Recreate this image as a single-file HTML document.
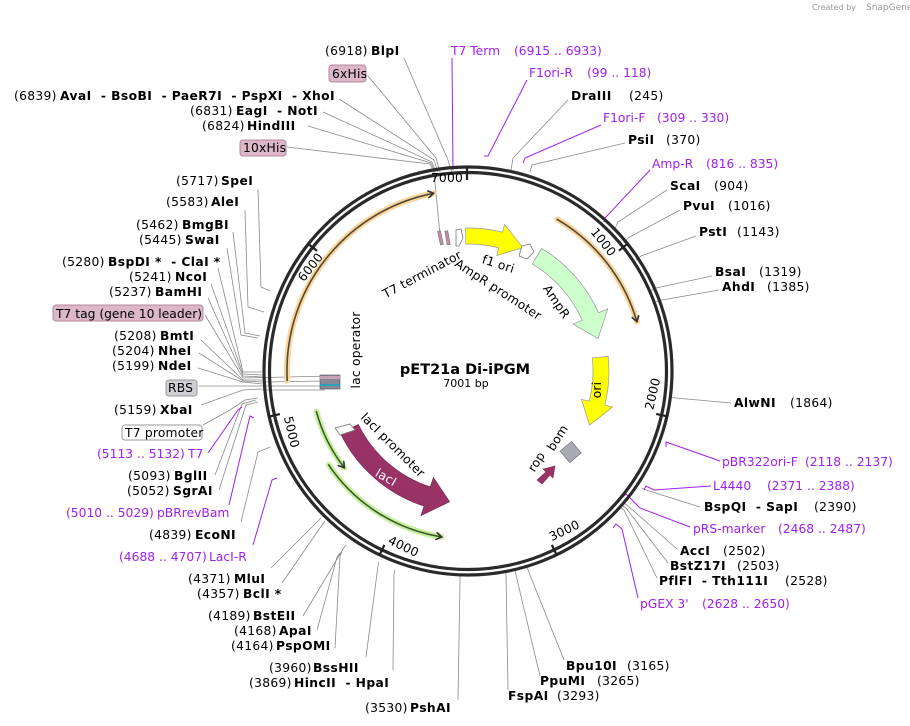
<!DOCTYPE html>
<html><head><meta charset="utf-8"><style>
html,body{margin:0;padding:0;background:#fff;}
svg{display:block;font-family:"DejaVu Sans","Liberation Sans",sans-serif;}
.n{font-size:12.3px;fill:#000;letter-spacing:0.3px;}
.b{font-size:12.3px;font-weight:bold;fill:#000;letter-spacing:0.4px;}
.p{font-size:12.3px;fill:#a020f0;letter-spacing:0px;}
.l{stroke:#8a8a8a;stroke-width:0.8;fill:none;}
.pl{stroke:#a020f0;stroke-width:1;fill:none;}
.f{font-size:12.3px;fill:#000;letter-spacing:0.2px;}
</style></head><body>
<svg width="910" height="726" viewBox="0 0 910 726" xmlns="http://www.w3.org/2000/svg">
<defs>
<marker id="ah" markerWidth="8" markerHeight="8" refX="6" refY="4" orient="auto" markerUnits="userSpaceOnUse">
<path d="M0,0 L6,4 L0,8" fill="none" stroke="#333" stroke-width="1.6"/></marker>
</defs>
<text x="812" y="10" style="font-size:8px;fill:#999">Created by</text>
<text x="866" y="10" style="font-size:9px;fill:#999">SnapGene</text>

<g class="l">
<polyline points="404,58 448,160 452,172"/>
<polyline points="368,76 436,158 440,172"/>
<polyline points="339,99 434,160 438,172"/>
<polyline points="323,112 432,162 436,172"/>
<polyline points="308,126 431,163 435,172"/>
<polyline points="287,147 430,164 434,172 440,235"/>
<polyline points="568,100 513,158 511,170"/>
<polyline points="625,143 532,165 530,172"/>
<polyline points="667,190 618,222 614,230"/>
<polyline points="680,210 628,238 624,243"/>
<polyline points="696,236 641,256 636,260"/>
<polyline points="712,276 656,288 650,291"/>
<polyline points="719,290 662,300 656,302"/>
<polyline points="731,403 676,398 670,397"/>
<polyline points="700,507 646,490 642,488"/>
<polyline points="677,549 628,506 624,503"/>
<polyline points="668,563 626,508 622,505"/>
<polyline points="657,578 624,510 620,507"/>
<polyline points="564,660 528,570 526,566"/>
<polyline points="540,676 516,575 515,570"/>
<polyline points="508,690 506,575 506,570"/>
<polyline points="458,700 460,580 460,574"/>
<polyline points="393,670 394,574 395,570"/>
<polyline points="366,657 378,566 379,562"/>
<polyline points="335,648 340,556 342,552"/>
<polyline points="317,630 337,557 340,553"/>
<polyline points="303,616 343,549 346,545"/>
<polyline points="282,583 322,525 325,521"/>
<polyline points="271,568 318,521 321,518"/>
<polyline points="241,522 258,452 270,447"/>
<polyline points="215,475 242,404 256,400"/>
<polyline points="219,490 246,405 258,402"/>
<polyline points="203,425 230,410 245,400 258,398"/>
<polyline points="258,189 261,287 270,291"/>
<polyline points="245,210 248,307 264,312"/>
<polyline points="233,232 245,333 260,336"/>
<polyline points="227,248 241,335 258,338"/>
<polyline points="218,268 243,372 262,372"/>
<polyline points="211,284 243,374 262,375"/>
<polyline points="208,298 243,376 262,377"/>
<polyline points="205,315 243,378 330,376"/>
<polyline points="201,340 243,380 262,380"/>
<polyline points="199,353 243,381 262,382"/>
<polyline points="198,368 243,382 262,384"/>
<polyline points="199,386 243,386 330,386"/>
<polyline points="201,405 243,390 262,389"/>
<line x1="262" y1="382" x2="325" y2="381"/>
<line x1="262" y1="390" x2="325" y2="390"/>
</g>
<g class="pl">
<polyline points="452,58 453,170"/>
<polyline points="527,80 488,156 484,156"/>
<polyline points="601,125 525,158 523,163"/>
<polyline points="650,170 605,218 604,222"/>
<polyline points="720,461 666,442 666,447"/>
<polyline points="711,486 654,490 646,486 644,490"/>
<polyline points="690,527 640,508 626,494 623,497"/>
<polyline points="638,598 622,529 616,524 613,528"/>
<polyline points="208,453 238,410 242,407"/>
<polyline points="229,505 250,416 254,418"/>
<polyline points="253,545 272,480 277,478"/>
</g>

<text class="n" x="325" y="55">(6918)</text><text class="b" x="371" y="55">BlpI</text>
<rect x="329" y="65" width="37" height="17" rx="3" fill="#dbb7c7" stroke="#b48a9c"/>
<text class="f" x="332" y="78">6xHis</text>
<text class="n" x="14" y="100">(6839)</text>
<text class="b" x="60" y="100" xml:space="preserve">AvaI  - BsoBI  - PaeR7I  - PspXI  - XhoI</text>
<text class="n" x="190" y="115">(6831)</text><text class="b" x="236" y="115" xml:space="preserve">EagI  - NotI</text>
<text class="n" x="202" y="130">(6824)</text><text class="b" x="247" y="130">HindIII</text>
<rect x="240" y="140" width="46" height="16" rx="3" fill="#dbb7c7" stroke="#b48a9c"/>
<text class="f" x="243" y="152">10xHis</text>

<text class="p" x="451" y="55">T7 Term</text><text class="p" x="514" y="55">(6915 .. 6933)</text>
<text class="p" x="529" y="77">F1ori-R</text><text class="p" x="587" y="77">(99 .. 118)</text>
<text class="b" x="571" y="100">DraIII</text><text class="n" x="629" y="100">(245)</text>
<text class="p" x="603" y="122">F1ori-F</text><text class="p" x="657" y="122">(309 .. 330)</text>
<text class="b" x="628" y="144">PsiI</text><text class="n" x="666" y="144">(370)</text>
<text class="p" x="652" y="168">Amp-R</text><text class="p" x="706" y="168">(816 .. 835)</text>
<text class="b" x="670" y="190">ScaI</text><text class="n" x="714" y="190">(904)</text>
<text class="b" x="683" y="210">PvuI</text><text class="n" x="728" y="210">(1016)</text>
<text class="b" x="699" y="236">PstI</text><text class="n" x="737" y="236">(1143)</text>
<text class="b" x="715" y="276">BsaI</text><text class="n" x="759" y="276">(1319)</text>
<text class="b" x="722" y="291">AhdI</text><text class="n" x="767" y="291">(1385)</text>
<text class="b" x="734" y="407">AlwNI</text><text class="n" x="790" y="407">(1864)</text>
<text class="p" x="722" y="466">pBR322ori-F</text><text class="p" x="805" y="466">(2118 .. 2137)</text>
<text class="p" x="713" y="490">L4440</text><text class="p" x="767" y="490">(2371 .. 2388)</text>
<text class="b" x="704" y="511" xml:space="preserve">BspQI  - SapI</text><text class="n" x="814" y="511">(2390)</text>
<text class="p" x="693" y="533">pRS-marker</text><text class="p" x="778" y="533">(2468 .. 2487)</text>
<text class="b" x="680" y="555">AccI</text><text class="n" x="723" y="555">(2502)</text>
<text class="b" x="670" y="570">BstZ17I</text><text class="n" x="737" y="570">(2503)</text>
<text class="b" x="659" y="585" xml:space="preserve">PflFI  - Tth111I</text><text class="n" x="785" y="585">(2528)</text>
<text class="p" x="640" y="608">pGEX 3'</text><text class="p" x="702" y="608">(2628 .. 2650)</text>
<text class="b" x="566" y="670">Bpu10I</text><text class="n" x="627" y="670">(3165)</text>
<text class="b" x="540" y="685">PpuMI</text><text class="n" x="597" y="685">(3265)</text>
<text class="b" x="508" y="700">FspAI</text><text class="n" x="557" y="700">(3293)</text>

<text class="n" x="365" y="712">(3530)</text><text class="b" x="410" y="712">PshAI</text>
<text class="n" x="249" y="687">(3869)</text><text class="b" x="294" y="687" xml:space="preserve">HincII  - HpaI</text>
<text class="n" x="269" y="672">(3960)</text><text class="b" x="313" y="672">BssHII</text>
<text class="n" x="231" y="650">(4164)</text><text class="b" x="276" y="650">PspOMI</text>
<text class="n" x="234" y="635">(4168)</text><text class="b" x="279" y="635">ApaI</text>
<text class="n" x="208" y="620">(4189)</text><text class="b" x="253" y="620">BstEII</text>
<text class="n" x="197" y="598">(4357)</text><text class="b" x="243" y="598">BclI *</text>
<text class="n" x="188" y="583">(4371)</text><text class="b" x="234" y="583">MluI</text>
<text class="p" x="119" y="561">(4688 .. 4707)</text><text class="p" x="209" y="561">LacI-R</text>
<text class="n" x="149" y="539">(4839)</text><text class="b" x="195" y="539">EcoNI</text>
<text class="p" x="66" y="517">(5010 .. 5029)</text><text class="p" x="157" y="517">pBRrevBam</text>
<text class="n" x="127" y="495">(5052)</text><text class="b" x="173" y="495">SgrAI</text>
<text class="n" x="128" y="480">(5093)</text><text class="b" x="174" y="480">BglII</text>
<text class="p" x="97" y="458">(5113 .. 5132)</text><text class="p" x="188" y="458">T7</text>
<rect x="122" y="425" width="80" height="15" rx="3" fill="#fff" stroke="#999"/>
<text class="f" x="125" y="437">T7 promoter</text>
<text class="n" x="114" y="414">(5159)</text><text class="b" x="160" y="414">XbaI</text>
<rect x="166" y="380" width="31" height="16" rx="3" fill="#cfd0d4" stroke="#999"/>
<text class="f" x="168" y="392">RBS</text>
<text class="n" x="112" y="370">(5199)</text><text class="b" x="158" y="370">NdeI</text>
<text class="n" x="112" y="355">(5204)</text><text class="b" x="158" y="355">NheI</text>
<text class="n" x="114" y="340">(5208)</text><text class="b" x="160" y="340">BmtI</text>
<rect x="53" y="305" width="150" height="16" rx="3" fill="#dbb7c7" stroke="#b48a9c"/>
<text class="f" x="56" y="318" style="letter-spacing:0">T7 tag (gene 10 leader)</text>
<text class="n" x="109" y="296">(5237)</text><text class="b" x="155" y="296">BamHI</text>
<text class="n" x="129" y="281">(5241)</text><text class="b" x="175" y="281">NcoI</text>
<text class="n" x="62" y="266">(5280)</text><text class="b" x="108" y="266" xml:space="preserve">BspDI *  - ClaI *</text>
<text class="n" x="139" y="244">(5445)</text><text class="b" x="185" y="244">SwaI</text>
<text class="n" x="136" y="229">(5462)</text><text class="b" x="182" y="229">BmgBI</text>
<text class="n" x="166" y="206">(5583)</text><text class="b" x="211" y="206">AleI</text>
<text class="n" x="176" y="185">(5717)</text><text class="b" x="221" y="185">SpeI</text>

<circle cx="468" cy="371" r="204" fill="none" stroke="#2a2a2a" stroke-width="3.2"/>
<circle cx="468" cy="371" r="198.5" fill="none" stroke="#2a2a2a" stroke-width="3.2"/>

<g stroke="#222" stroke-width="2.2">
<line x1="467" y1="166" x2="467" y2="180"/>
<line x1="628.3" y1="243.2" x2="618.9" y2="250.7"/>
<line x1="667.9" y1="416.6" x2="656.2" y2="413.9"/>
<line x1="557" y1="555.7" x2="551.8" y2="544.9"/>
<line x1="379.2" y1="555.7" x2="384.4" y2="544.9"/>
<line x1="268.2" y1="416.8" x2="279.9" y2="414.1"/>
<line x1="307.6" y1="243.4" x2="317" y2="250.9"/>
</g>
<g class="f">
<text x="463" y="182" text-anchor="end">7000</text>
<text transform="translate(618,251) rotate(51.4)" text-anchor="end" dy="10">1000</text>
<text transform="translate(656,411) rotate(-77)" text-anchor="start" dy="-3">2000</text>
<text transform="translate(553,544) rotate(-25.7)" text-anchor="start" dy="-3">3000</text>
<text transform="translate(386,546) rotate(25.7)" text-anchor="start" dy="-3">4000</text>
<text transform="translate(281,418) rotate(77)" text-anchor="start" dy="-3">5000</text>
<text transform="translate(316,251) rotate(-51.4)" text-anchor="end" dy="10">6000</text>
</g>

<g fill="none" stroke-linecap="round">
<path d="M287.2 380.5 A181 181 0 0 1 433.5 193.3" stroke="#fdd49a" stroke-width="6"/>
<path d="M287.2 380.5 A181 181 0 0 1 433.5 193.3" stroke="#4a4a3a" stroke-width="1.6" marker-end="url(#ah)"/>
<path d="M557.3 219.4 A176 176 0 0 1 636.9 321.6" stroke="#fdd49a" stroke-width="6"/>
<path d="M557.3 219.4 A176 176 0 0 1 636.9 321.6" stroke="#4a4a3a" stroke-width="1.6" marker-end="url(#ah)"/>
<path d="M316.4 411.6 A157 157 0 0 0 344.3 467.7" stroke="#c8f0a0" stroke-width="6"/>
<path d="M316.4 411.6 A157 157 0 0 0 344.3 467.7" stroke="#3a5a2a" stroke-width="1.6" marker-end="url(#ah)"/>
<path d="M328.7 464.9 A168 168 0 0 0 441.7 536.9" stroke="#c8f0a0" stroke-width="6"/>
<path d="M328.7 464.9 A168 168 0 0 0 441.7 536.9" stroke="#3a5a2a" stroke-width="1.6" marker-end="url(#ah)"/>
</g>

<path d="M340.4 433.3 A142 142 0 0 0 424.1 506.1 L421 515.6 L449.6 501.7 L433.4 477.5 L430.3 487 A122 122 0 0 1 358.3 424.5 Z" fill="#993366" stroke="#7a2a50" stroke-width="0.7"/>
<path d="M465.5 228 A143 143 0 0 1 502.6 232.2 L504.5 224.5 L522.9 247.7 L496.8 255.5 L498.7 247.8 A127 127 0 0 0 465.8 244 Z" fill="#ffff00" stroke="#999" stroke-width="0.7"/>
<path d="M541.6 248.4 A143 143 0 0 1 598.6 312.8 L607.8 308.8 L598 338.6 L573.1 324.2 L582.2 320.2 A125 125 0 0 0 532.4 263.9 Z" fill="#ccffcc" stroke="#999" stroke-width="0.7"/>
<path d="M608.2 356.3 A141 141 0 0 1 604.8 405.1 L612.6 407 L589.5 425.1 L581.5 399.3 L589.3 401.2 A125 125 0 0 0 592.3 357.9 Z" fill="#ffff00" stroke="#999" stroke-width="0.7"/>
<path d="M522 246 L530 244 L534 252 L527 259 L519 256 Z" fill="#fff" stroke="#777" stroke-width="0.8"/>
<path d="M335 428 L350 424 L355 430 L340 435 Z" fill="#fff" stroke="#777" stroke-width="0.8"/>
<rect x="439" y="231" width="3" height="14" fill="#c48aa6" stroke="#777" stroke-width="0.6" transform="rotate(-12 440 238)"/>
<rect x="446" y="231" width="3" height="14" fill="#c48aa6" stroke="#777" stroke-width="0.6" transform="rotate(-10 447 238)"/>
<path d="M456 230 L461 229 L463 238 L459 246 L456 246 Z" fill="#fff" stroke="#777" stroke-width="0.8"/>
<rect x="320" y="375" width="20" height="14" fill="#889" stroke="#555" stroke-width="0.6"/>
<rect x="320" y="376" width="20" height="3" fill="#c9a0b4"/>
<rect x="320" y="384" width="20" height="2" fill="#2aa0c0"/>
<rect x="563" y="445" width="15" height="15" fill="#a8abb2" stroke="#777" stroke-width="0.7" transform="rotate(-40 570 452)"/>
<path d="M537 480 L546 472 L543 469 L555 466 L553 478 L550 475 L542 484 Z" fill="#993366" stroke="#7a2a50" stroke-width="0.6"/>

<g class="f">
<text transform="translate(424,278) rotate(-28)" text-anchor="middle">T7 terminator</text>
<text transform="translate(497,268) rotate(18)" text-anchor="middle">f1 ori</text>
<text transform="translate(496,293) rotate(33)" text-anchor="middle">AmpR promoter</text>
<text transform="translate(553,304) rotate(56)" text-anchor="middle">AmpR</text>
<text transform="translate(601,390) rotate(-90)" text-anchor="middle">ori</text>
<text transform="translate(360,350) rotate(-90)" text-anchor="middle">lac operator</text>
<text transform="translate(390,448) rotate(45)" text-anchor="middle">lacI promoter</text>
<text transform="translate(384,481) rotate(30)" text-anchor="middle" style="fill:#fff">lacI</text>
<text transform="translate(540,464) rotate(-58)" text-anchor="middle">rop</text>
<text transform="translate(561,440) rotate(-58)" text-anchor="middle">bom</text>
</g>
<text x="465" y="374" text-anchor="middle" style="font-size:14.5px;font-weight:bold">pET21a Di-iPGM</text>
<text x="466" y="387" text-anchor="middle" style="font-size:11px">7001 bp</text>
</svg>
</body></html>
